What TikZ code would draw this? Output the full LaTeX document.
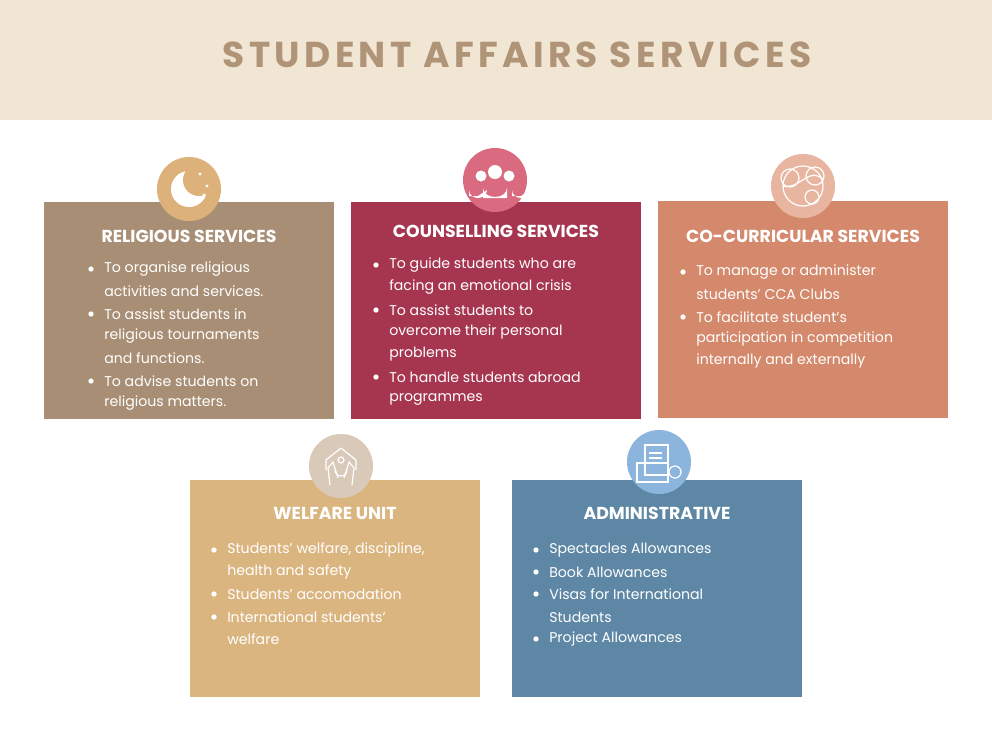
\documentclass[tikz,border=0pt]{standalone}
\usepackage{fontspec}
\setmainfont{Poppins}
\newfontfamily\titlefont[LetterSpace=12]{Poppins}
\definecolor{hdrbg}{RGB}{241,229,211}
\definecolor{ttl}{RGB}{176,148,120}
\definecolor{c1}{RGB}{168,142,116}
\definecolor{c2}{RGB}{166,54,79}
\definecolor{c3}{RGB}{212,137,108}
\definecolor{c4}{RGB}{219,181,128}
\definecolor{c5}{RGB}{94,135,166}
\definecolor{i1c}{RGB}{221,178,122}
\definecolor{i2c}{RGB}{217,106,127}
\definecolor{i3c}{RGB}{232,181,160}
\definecolor{i4c}{RGB}{217,201,185}
\definecolor{i5c}{RGB}{139,181,220}
\begin{document}
\begin{tikzpicture}[x=0.75pt,y=-0.75pt,
  boxst/.style={minimum width=217.5pt,minimum height=162.75pt,inner sep=0,anchor=north west},
  hd/.style={text=white,font=\bfseries\fontsize{13}{15}\selectfont,anchor=center},
  ln/.style={text=white,font=\fontsize{10.6}{12}\selectfont,anchor=west,inner sep=0},
  bul/.style={circle,fill=white,inner sep=0,minimum size=4pt},
  ico/.style={circle,minimum size=48pt,inner sep=0},
  icl/.style={draw=white,line width=0.9pt}]
\useasboundingbox (0,0) rectangle (992,744);
\fill[white] (0,0) rectangle (992,744);
\fill[hdrbg] (0,0) rectangle (992,120);
\node (title) at (517,55) {\titlefont\bfseries\fontsize{27}{30}\selectfont\color{ttl}STUDENT AFFAIRS SERVICES};
% boxes
\node[boxst,fill=c1] (b1) at (44,202) {};
\node[boxst,fill=c2] (b2) at (351,202) {};
\node[boxst,fill=c3] (b3) at (658,201) {};
\node[boxst,fill=c4] (b4) at (190,480) {};
\node[boxst,fill=c5] (b5) at (512,480) {};
% icons
\node[ico,fill=i1c] (i1) at (189,189) {};
\node[ico,fill=i2c] (i2) at (495,180) {};
\node[ico,fill=i3c] (i3) at (803,186) {};
\node[ico,fill=i4c] (i4) at (341,466) {};
\node[ico,fill=i5c] (i5) at (659,462) {};
% moon
\fill[white] (189,189) circle (18);
\fill[i1c] (199,180) circle (16);
\foreach \p in {(200,174),(207,186),(204,195)} \fill[white] \p circle (1.6);
% people
\begin{scope}[white]
\fill (495,172) circle (7); \fill (481,176) circle (5.5); \fill (509,176) circle (5.5);
\fill (483,198) -- (483,188) arc (180:0:12 and 9) -- (507,198) -- cycle;
\fill (469,196) -- (469,190) arc (180:0:9 and 8) -- (478,196) -- cycle;
\fill (512,196) -- (512,190) arc (180:0:9 and 8) -- (521,196) -- cycle;
\end{scope}
% balls
\draw[icl] (803,186) circle (20);
\draw[icl] (790,178) circle (9); \draw[icl] (815,176) circle (9); \draw[icl] (812,197) circle (7);
\draw[icl] (783,186) .. controls (800,190) and (810,165) .. (823,180);
% hands
\draw[icl] (341,448) -- (326,460) -- (326,470) (341,448) -- (356,460) -- (356,470);
\draw[icl] (330,485) -- (328,468) -- (333,462) -- (338,478) (352,485) -- (354,468) -- (349,462) -- (344,478);
\draw[icl] (341,460) circle (3); \draw[icl] (335,470) arc (180:0:6);
% admin
\draw[icl] (645,445) rectangle (668,475); \draw[icl] (637,463) rectangle (668,482);
\draw[icl] (649,453) -- (662,453) (649,458) -- (662,458);
\draw[icl] (675,472) circle (6);
% headings
\node[hd] (h1) at (189,236) {RELIGIOUS SERVICES};
\node[hd] (h2) at (496,231) {COUNSELLING SERVICES};
\node[hd] (h3) at (803,236) {CO-CURRICULAR SERVICES};
\node[hd] (h4) at (335,513) {WELFARE UNIT};
\node[hd] (h5) at (657,513) {ADMINISTRATIVE};
% religious
\node[ln] (r1) at (104,269) {To organise religious};
\node[ln] (r2) at (104,291) {activities and services.};
\node[ln] (r3) at (104,314) {To assist students in};
\node[ln] (r4) at (104,336) {religious tournaments};
\node[ln] (r5) at (104,358) {and functions.};
\node[ln] (r6) at (104,381) {To advise students on};
\node[ln] (r7) at (104,403) {religious matters.};
\foreach \y in {269,314,381} \node[bul] at (91,\y) {};
% counselling
\node[ln] (k1a) at (389,265) {To guide students who are};
\node[ln] (k2a) at (389,287) {facing an emotional crisis};
\node[ln] (k3a) at (389,310) {To assist students to};
\node[ln] (k4a) at (389,332) {overcome their personal};
\node[ln] (k5a) at (389,354) {problems};
\node[ln] (k6a) at (389,377) {To handle students abroad};
\node[ln] (k7a) at (389,399) {programmes};
\foreach \y in {265,310,377} \node[bul] at (376,\y) {};
% cocurricular
\node[ln] (k1) at (696,272) {To manage or administer};
\node[ln] (k2) at (696,294) {students’ CCA Clubs};
\node[ln] (k3) at (696,317) {To facilitate student’s};
\node[ln] (k4) at (696,339) {participation in competition};
\node[ln] (k5) at (696,361) {internally and externally};
\foreach \y in {272,317} \node[bul] at (683,\y) {};
% welfare
\node[ln] (w1) at (227,550) {Students’ welfare, discipline,};
\node[ln] (w2) at (227,572) {health and safety};
\node[ln] (w3) at (227,594) {Students’ accomodation};
\node[ln] (w4) at (227,617) {International students’};
\node[ln] (w5) at (227,639) {welfare};
\foreach \y in {550,594,617} \node[bul] at (214,\y) {};
% admin
\node[ln] (a1) at (549,550) {Spectacles Allowances};
\node[ln] (a2) at (549,572) {Book Allowances};
\node[ln] (a3) at (549,594) {Visas for International};
\node[ln] (a4) at (549,617) {Students};
\node[ln] (a5) at (549,639) {Project Allowances};
\foreach \y in {550,572,594,639} \node[bul] at (536,\y) {};
\end{tikzpicture}
\end{document}
